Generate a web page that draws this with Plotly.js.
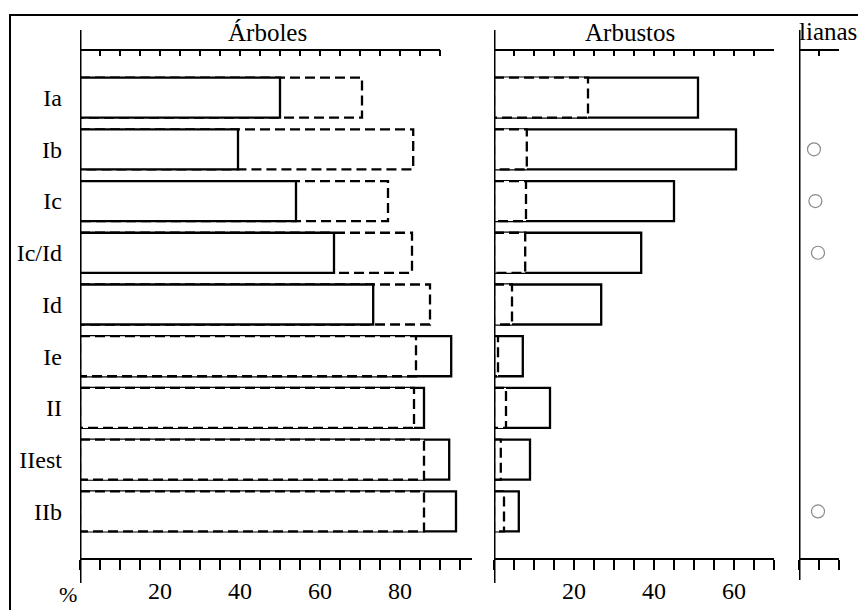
<!DOCTYPE html>
<html>
<head>
<meta charset="utf-8">
<script src="https://cdn.plot.ly/plotly-3.0.1.min.js"></script>
<style>html,body{margin:0;padding:0;background:#fff;}#chart{width:858px;height:610px;}</style>
</head>
<body>
<div id="chart"></div>
<script>
// ---- data ----
var categories = ['Ia', 'Ib', 'Ic', 'Ic/Id', 'Id', 'Ie', 'II', 'IIest', 'IIb'];
var arbolesSolid  = [50, 39.5, 54, 63.5, 73.3, 92.8, 86, 92.3, 94];
var arbolesDashed = [70.5, 83.3, 77, 83, 87.5, 84, 83.5, 86, 86];
var arbustosSolid  = [51, 60.5, 45, 36.8, 26.8, 7.2, 14, 9, 6.2];
var arbustosDashed = [23.5, 8.2, 8, 7.8, 4.5, 1, 3, 1.7, 2.5];
var lianas = [null, 3.75, 4.1, 4.75, null, null, null, null, 4.75];
var panelTitles = ['Árboles', 'Arbustos', 'lianas'];
var arbolesTickLabels = {20: '20', 40: '40', 60: '60', 80: '80'};
var arbustosTickLabels = {20: '20', 40: '40', 60: '60'};
var unitLabel = '%';

// ---- helpers ----
var W = 858, H = 610;
function px(x) { return x / W; }
function py(y) { return 1 - y / H; }
var FONT = 'Liberation Serif, Times New Roman, serif';
var HALF = 0.387;

function ticks(maxV, step) { var a = []; for (var v = 0; v <= maxV + 1e-9; v += step) a.push(v); return a; }
function tickText(vals, map) { return vals.map(function (v) { return map[v] || ''; }); }

function barTrace(v, i, xa, dashed) {
  return {
    type: 'scatter', mode: 'lines', xaxis: xa, yaxis: 'y',
    x: [0, v, v, 0, 0],
    y: [i - HALF, i - HALF, i + HALF, i + HALF, i - HALF],
    fill: 'toself', fillcolor: '#ffffff',
    line: {color: '#000', width: 2.3, dash: dashed ? '10px,5px' : 'solid'},
    hoverinfo: 'skip', showlegend: false
  };
}

var traces = [];
function addPanel(solid, dashed, xa) {
  for (var i = 0; i < categories.length; i++) {
    var s = barTrace(solid[i], i, xa, false);
    var d = barTrace(dashed[i], i, xa, true);
    if (solid[i] >= dashed[i]) { traces.push(s, d); } else { traces.push(d, s); }
  }
}
addPanel(arbolesSolid, arbolesDashed, 'x');
addPanel(arbustosSolid, arbustosDashed, 'x2');
traces.push({
  type: 'scatter', mode: 'markers', xaxis: 'x3', yaxis: 'y',
  x: lianas, y: categories.map(function (c, i) { return i; }),
  marker: {symbol: 'circle-open', size: 13, color: '#8a8a8a', line: {width: 1.2, color: '#8a8a8a'}},
  cliponaxis: false, hoverinfo: 'skip', showlegend: false
});
// empty traces so the top (overlaying) axes are drawn
['x4', 'x5', 'x6'].forEach(function (xa) {
  traces.push({type: 'scatter', mode: 'none', xaxis: xa, yaxis: 'y', x: [], y: [], hoverinfo: 'skip', showlegend: false});
});

var yTop = py(50), yBot = py(559);
var tickFont = {family: FONT, size: 24, color: '#000'};

function bottomAxis(dom, range, tv, tt) {
  return {
    domain: dom, range: range, anchor: 'y', fixedrange: true,
    tickmode: 'array', tickvals: tv, ticktext: tt,
    ticks: 'outside', ticklen: 10, tickwidth: 2, tickcolor: '#000',
    showline: false, showgrid: false, zeroline: false,
    tickfont: tickFont, ticklabelstandoff: 0
  };
}
function topAxis(over, range, tv) {
  return {
    overlaying: over, side: 'top', anchor: 'y', range: range, fixedrange: true,
    tickmode: 'array', tickvals: tv, ticks: 'inside', ticklen: 6, tickwidth: 2, tickcolor: '#000',
    showticklabels: false, showline: false, showgrid: false, zeroline: false
  };
}

var arbBot = ticks(95, 5), arbTop = ticks(90, 5);
var arbuTicks = ticks(70, 5);
var liaTicks = ticks(10, 5);

var shapes = [];
function hline(xa, x0, x1, y) {
  shapes.push({type: 'line', xref: xa, yref: 'paper', x0: x0, x1: x1, y0: y, y1: y, line: {color: '#000', width: 2}});
}
function vline(xa, y0, y1) {
  shapes.push({type: 'line', xref: xa, yref: 'paper', x0: 0, x1: 0, y0: y0, y1: y1, line: {color: '#000', width: 3}});
}
// frame
shapes.push({type: 'rect', xref: 'paper', yref: 'paper', x0: px(10), x1: 1.1, y0: -0.1, y1: py(15), line: {color: '#000', width: 2}, fillcolor: 'rgba(0,0,0,0)', layer: 'above'});
// axis lines
hline('x', 0, 90, yTop); hline('x', 0, 98, yBot);
hline('x2', 0, 70, yTop); hline('x2', 0, 70, yBot);
hline('x3', 0, 10, yTop); hline('x3', 0, 10, yBot);
vline('x', py(583), py(30));
vline('x2', py(583), py(30));
vline('x3', py(580), py(30));

var annFont = {family: FONT, size: 25, color: '#000'};
var layout = {
  width: W, height: H, autosize: false,
  margin: {l: 0, r: 0, t: 0, b: 0, pad: 0},
  paper_bgcolor: '#fff', plot_bgcolor: 'rgba(0,0,0,0)',
  showlegend: false,
  xaxis: bottomAxis([px(80), px(472)], [0, 98], arbBot, tickText(arbBot, arbolesTickLabels)),
  xaxis2: bottomAxis([px(494), px(774)], [0, 70], arbuTicks, tickText(arbuTicks, arbustosTickLabels)),
  xaxis3: bottomAxis([px(799), px(839)], [0, 10], liaTicks, tickText(liaTicks, {})),
  xaxis4: topAxis('x', [0, 98], arbTop),
  xaxis5: topAxis('x2', [0, 70], arbuTicks),
  xaxis6: topAxis('x3', [0, 10], liaTicks),
  yaxis: {
    domain: [yBot, yTop], range: [8.92, -0.92], anchor: 'x', fixedrange: true,
    tickmode: 'array', tickvals: categories.map(function (c, i) { return i; }), ticktext: categories,
    ticks: '', showline: false, showgrid: false, zeroline: false,
    tickfont: tickFont, ticklabelstandoff: 17
  },
  shapes: shapes,
  annotations: [
    {xref: 'paper', yref: 'paper', x: px(267), y: py(32), text: panelTitles[0], showarrow: false, xanchor: 'center', yanchor: 'middle', font: annFont},
    {xref: 'paper', yref: 'paper', x: px(630), y: py(32), text: panelTitles[1], showarrow: false, xanchor: 'center', yanchor: 'middle', font: annFont},
    {xref: 'paper', yref: 'paper', x: px(797), y: py(31), text: panelTitles[2], showarrow: false, xanchor: 'left', yanchor: 'middle', font: annFont},
    {xref: 'paper', yref: 'paper', x: px(68), y: py(609), text: unitLabel, showarrow: false, xanchor: 'center', yanchor: 'bottom', font: {family: FONT, size: 22, color: '#000'}}
  ]
};

Plotly.newPlot('chart', traces, layout, {staticPlot: true, displayModeBar: false});
</script>
</body>
</html>
